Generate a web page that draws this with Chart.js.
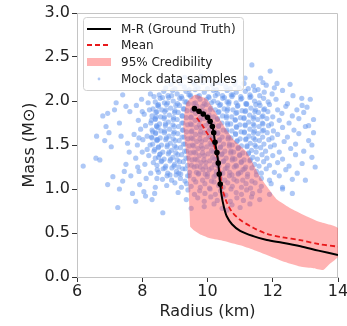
<!DOCTYPE html>
<html>
<head>
<meta charset="utf-8">
<script src="https://cdn.jsdelivr.net/npm/chart.js@4.4.1/dist/chart.umd.min.js"></script>
<style>
  html, body { margin: 0; padding: 0; background: #fff; }
  #wrap { width: 347px; height: 326px; }
</style>
</head>
<body>
<div id="wrap"><canvas id="graficoMR" width="347" height="326"></canvas></div>
<script>
// ground truth M-R curve (radius km, mass Msun); first 12 points carry markers
const truthR = [9.60, 9.74, 9.87, 10.00, 10.08, 10.15, 10.19, 10.23, 10.29, 10.33, 10.36, 10.39,
                10.43, 10.50, 10.59, 10.75, 11.00, 11.40, 11.82, 12.30, 12.85, 13.40, 14.00];
const truthM = [1.913, 1.883, 1.853, 1.815, 1.77, 1.71, 1.64, 1.53, 1.415, 1.295, 1.17, 1.056,
                0.93, 0.80, 0.69, 0.60, 0.525, 0.465, 0.42, 0.39, 0.35, 0.30, 0.25];
const markedPoints = 12;

// posterior mean
const meanR = [9.67, 9.85, 9.98, 10.10, 10.18, 10.26, 10.33, 10.39, 10.44, 10.52, 10.60, 10.75,
               11.00, 11.40, 11.82, 12.30, 12.84, 13.40, 14.00];
const meanM = [1.81, 1.72, 1.64, 1.57, 1.52, 1.42, 1.295, 1.16, 1.03, 0.92, 0.84, 0.74,
               0.65, 0.56, 0.49, 0.45, 0.42, 0.375, 0.345];

// 95% band outline, walked round as one closed shape
const bandR = [9.47, 9.45, 9.42, 9.38, 9.30, 9.26, 9.30, 9.36, 9.50, 9.62, 9.80, 9.98, 10.2, 10.5,
               10.8, 11.2, 11.61, 11.9, 12.13, 12.5, 12.84, 13.4, 14.0,
               14.0, 13.75, 13.55, 13.25, 12.84, 12.3, 11.82, 11.4, 11.0, 10.5, 10.08, 9.8, 9.57];
const bandM = [0.57, 0.75, 1.0, 1.3, 1.55, 1.71, 1.88, 1.98, 2.04, 2.07, 2.05, 2.02, 1.9, 1.72,
               1.56, 1.42, 1.14, 0.99, 0.88, 0.79, 0.725, 0.63, 0.555,
               0.23, 0.15, 0.08, 0.10, 0.12, 0.18, 0.25, 0.31, 0.36, 0.41, 0.44, 0.48, 0.535];

// mock (R, M) samples
const mockSamples = [
  [6.19,1.26],[6.58,1.35],[6.7,1.33],[6.79,1.83],[6.89,1.71],[6.94,1.86],[6.94,1.05],[6.98,1.64],[7.1,1.14],[7.2,1.98],
  [7.25,0.79],[7.3,1.75],[7.3,1.0],[7.4,2.07],[7.4,1.09],[7.5,1.94],[7.5,1.28],[7.55,1.52],[7.6,1.42],[7.62,1.88],
  [7.7,0.95],[7.05,1.48],[6.85,1.55],[7.35,1.6],[7.45,1.2],[7.15,1.9],[6.6,1.6],[7.65,1.15],
  [7.75,1.62],[7.8,0.86],[7.8,1.35],[7.82,1.95],[7.85,1.5],[7.88,1.78],[7.9,1.2],[7.92,1.05],[7.95,1.68],[7.98,2.02],
  [8.0,1.42],[8.02,1.56],[8.05,0.97],[8.06,1.85],[8.08,1.28],[8.1,1.72],[8.12,1.12],[8.15,1.6],[8.18,1.98],[8.2,1.38],
  [8.22,1.9],[8.24,1.5],[8.26,1.18],[8.28,1.78],[8.3,0.88],[8.32,1.65],[8.34,1.3],[8.36,2.05],[8.38,1.45],[8.4,1.02],
  [8.42,1.82],[8.44,1.56],[8.46,1.22],[8.48,1.7],[8.5,1.94],[8.5,1.36],[7.9,1.58],[8.0,1.88],[8.15,1.45],[8.3,1.58],
  [8.45,1.12],[7.86,1.25],[8.25,2.08],[8.1,0.92],[8.38,0.95],
  [9.05,2.23],[9.3,2.27],[9.55,2.22],[9.8,2.28],[10.05,2.24],[10.3,2.21],[10.6,2.27],[10.85,2.23],[11.15,2.26],[11.36,2.41],
  [11.63,2.26],[11.92,2.34],[12.13,2.2],[11.7,2.21],[12.53,2.19],
  [8.72,2.15],[8.88,2.19],[9.0,2.14],[9.17,2.2],[9.29,2.16],[9.44,2.13],[9.6,2.19],[9.71,2.15],[9.86,2.21],[10.0,2.14],
  [10.15,2.18],[10.27,2.13],[10.43,2.2],[10.56,2.16],[10.7,2.14],[10.84,2.19],[10.97,2.15],[11.12,2.2],[11.25,2.14],[11.41,2.17],
  [11.55,2.13],[11.8,2.18],[12.05,2.15],
  [8.52,2.07],[8.66,2.11],[8.79,2.06],[8.93,2.12],[9.07,2.08],[9.2,2.05],[9.34,2.11],[9.47,2.07],[9.62,2.13],[9.75,2.06],
  [9.9,2.1],[10.03,2.05],[10.18,2.12],[10.31,2.08],[10.46,2.06],[10.6,2.12],[10.73,2.07],[10.88,2.1],[11.02,2.05],[11.16,2.11],
  [11.3,2.07],[11.45,2.12],[11.6,2.06],[11.74,2.1],[11.98,2.08],[12.3,2.12],[12.62,2.06],
  [8.4,1.99],[8.55,2.03],[8.68,1.98],[8.81,2.04],[8.95,2.0],[9.08,1.97],[9.22,2.03],[9.36,1.99],[9.49,2.05],[9.63,1.98],
  [9.77,2.02],[9.9,1.97],[10.05,2.04],[10.19,2.0],[10.32,1.98],[10.47,2.03],[10.6,1.99],[10.75,2.05],[10.88,1.98],[11.02,2.02],
  [11.17,1.97],[11.3,2.04],[11.44,2.0],[11.58,1.98],[11.72,2.03],[11.86,1.99],[12.1,2.02],[12.45,1.97],[12.89,2.03],[13.15,2.02],
  [8.33,1.91],[8.47,1.95],[8.6,1.9],[8.74,1.96],[8.87,1.92],[9.0,1.89],[9.14,1.95],[9.28,1.91],[9.41,1.97],[9.55,1.9],
  [9.68,1.94],[9.82,1.89],[9.96,1.96],[10.1,1.92],[10.24,1.9],[10.37,1.95],[10.51,1.91],[10.65,1.97],[10.78,1.9],[10.92,1.94],
  [11.06,1.89],[11.2,1.96],[11.33,1.92],[11.47,1.9],[11.61,1.95],[11.75,1.91],[11.9,1.96],[12.15,1.9],[12.4,1.94],[12.74,1.9],
  [13.05,1.93],
  [8.3,1.83],[8.42,1.87],[8.56,1.82],[8.69,1.88],[8.83,1.84],[8.96,1.81],[9.1,1.87],[9.23,1.83],[9.37,1.89],[9.5,1.82],
  [9.64,1.86],[9.78,1.81],[9.92,1.88],[10.05,1.84],[10.19,1.82],[10.33,1.87],[10.46,1.83],[10.6,1.89],[10.74,1.82],[10.87,1.86],
  [11.01,1.81],[11.15,1.88],[11.29,1.84],[11.42,1.82],[11.56,1.87],[11.7,1.83],[11.85,1.88],[12.0,1.82],[12.28,1.86],[12.6,1.83],
  [12.95,1.87],[13.25,1.79],
  [8.26,1.75],[8.4,1.79],[8.53,1.74],[8.67,1.8],[8.8,1.76],[8.94,1.73],[9.07,1.79],[9.21,1.75],[9.35,1.81],[9.48,1.74],
  [9.62,1.78],[9.75,1.73],[9.89,1.8],[10.03,1.76],[10.17,1.74],[10.3,1.79],[10.44,1.75],[10.58,1.81],[10.71,1.74],[10.85,1.78],
  [10.99,1.73],[11.12,1.8],[11.26,1.76],[11.4,1.74],[11.54,1.79],[11.68,1.75],[11.82,1.8],[11.96,1.74],[12.2,1.78],[12.5,1.75],
  [12.8,1.8],[13.1,1.72],
  [8.3,1.67],[8.44,1.71],[8.57,1.66],[8.71,1.72],[8.84,1.68],[8.98,1.65],[9.11,1.71],[9.25,1.67],[9.39,1.73],[9.52,1.66],
  [9.66,1.7],[9.79,1.65],[9.93,1.72],[10.07,1.68],[10.21,1.66],[10.34,1.71],[10.48,1.67],[10.62,1.73],[10.75,1.66],[10.89,1.7],
  [11.03,1.65],[11.16,1.72],[11.3,1.68],[11.44,1.66],[11.58,1.71],[11.72,1.67],[11.87,1.72],[12.02,1.66],[12.3,1.7],[12.65,1.67],
  [13.0,1.71],
  [8.28,1.59],[8.41,1.63],[8.55,1.58],[8.68,1.64],[8.82,1.6],[8.95,1.57],[9.09,1.63],[9.22,1.59],[9.36,1.65],[9.5,1.58],
  [9.63,1.62],[9.77,1.57],[9.9,1.64],[10.04,1.6],[10.18,1.58],[10.31,1.63],[10.45,1.59],[10.59,1.65],[10.72,1.58],[10.86,1.62],
  [11.0,1.57],[11.13,1.64],[11.27,1.6],[11.41,1.58],[11.55,1.63],[11.69,1.59],[11.83,1.64],[11.98,1.58],[12.15,1.62],[12.45,1.59],
  [12.8,1.63],[13.25,1.64],
  [8.32,1.51],[8.45,1.55],[8.59,1.5],[8.72,1.56],[8.86,1.52],[8.99,1.49],[9.13,1.55],[9.26,1.51],[9.4,1.57],[9.54,1.5],
  [9.67,1.54],[9.81,1.49],[9.94,1.56],[10.08,1.52],[10.22,1.5],[10.35,1.55],[10.49,1.51],[10.63,1.57],[10.76,1.5],[10.9,1.54],
  [11.04,1.49],[11.17,1.56],[11.31,1.52],[11.45,1.5],[11.59,1.55],[11.73,1.51],[11.88,1.56],[12.05,1.5],[12.35,1.54],[12.7,1.51],
  [13.1,1.55],
  [8.36,1.43],[8.49,1.47],[8.63,1.42],[8.76,1.48],[8.9,1.44],[9.03,1.41],[9.17,1.47],[9.3,1.43],[9.44,1.49],[9.58,1.42],
  [9.71,1.46],[9.85,1.41],[9.98,1.48],[10.12,1.44],[10.26,1.42],[10.39,1.47],[10.53,1.43],[10.67,1.49],[10.8,1.42],[10.94,1.46],
  [11.08,1.41],[11.21,1.48],[11.35,1.44],[11.49,1.42],[11.63,1.47],[11.78,1.43],[11.93,1.48],[12.2,1.42],[12.55,1.46],[12.95,1.43],
  [8.4,1.35],[8.53,1.39],[8.67,1.34],[8.8,1.4],[8.94,1.36],[9.07,1.33],[9.21,1.39],[9.34,1.35],[9.48,1.41],[9.62,1.34],
  [9.75,1.38],[9.89,1.33],[10.02,1.4],[10.16,1.36],[10.3,1.34],[10.43,1.39],[10.57,1.35],[10.71,1.41],[10.84,1.34],[10.98,1.38],
  [11.12,1.33],[11.25,1.4],[11.39,1.36],[11.53,1.34],[11.67,1.39],[11.82,1.35],[12.0,1.38],[12.3,1.34],[12.7,1.39],[13.2,1.36],
  [8.45,1.27],[8.58,1.31],[8.72,1.26],[8.85,1.32],[8.99,1.28],[9.12,1.25],[9.26,1.31],[9.39,1.27],[9.53,1.33],[9.67,1.26],
  [9.8,1.3],[9.94,1.25],[10.07,1.32],[10.21,1.28],[10.35,1.26],[10.48,1.31],[10.62,1.27],[10.76,1.33],[10.89,1.26],[11.03,1.3],
  [11.17,1.25],[11.3,1.32],[11.44,1.28],[11.58,1.26],[11.72,1.31],[11.9,1.27],[12.15,1.3],[12.5,1.26],[12.9,1.29],
  [8.5,1.19],[8.64,1.23],[8.78,1.18],[8.91,1.24],[9.05,1.2],[9.18,1.17],[9.32,1.23],[9.45,1.19],[9.59,1.25],[9.73,1.18],
  [9.86,1.22],[10.0,1.17],[10.13,1.24],[10.27,1.2],[10.41,1.18],[10.54,1.23],[10.68,1.19],[10.82,1.25],[10.95,1.18],[11.09,1.22],
  [11.23,1.17],[11.36,1.24],[11.5,1.2],[11.65,1.18],[11.8,1.23],[12.05,1.19],[12.4,1.22],[12.75,1.18],
  [8.62,1.11],[8.76,1.15],[8.9,1.1],[9.04,1.16],[9.17,1.12],[9.31,1.09],[9.44,1.15],[9.58,1.11],[9.72,1.17],[9.85,1.1],
  [9.99,1.14],[10.12,1.09],[10.26,1.16],[10.4,1.12],[10.53,1.1],[10.67,1.15],[10.81,1.11],[10.94,1.17],[11.08,1.1],[11.22,1.14],
  [11.36,1.09],[11.5,1.16],[11.65,1.12],[11.9,1.1],[12.2,1.15],[12.6,1.11],
  [8.75,1.04],[9.0,1.07],[9.2,1.02],[9.36,1.06],[9.5,1.03],[9.64,1.08],[9.78,1.02],[9.92,1.06],[10.06,1.01],[10.2,1.08],
  [10.34,1.04],[10.48,1.02],[10.62,1.07],[10.76,1.03],[10.9,1.09],[11.04,1.02],[11.18,1.06],[11.32,1.01],[11.46,1.07],[11.65,1.03],
  [11.95,1.06],[12.3,1.02],
  [9.1,0.96],[9.4,0.99],[9.6,0.94],[9.76,0.98],[9.92,0.95],[10.08,1.0],[10.24,0.94],[10.4,0.98],[10.56,0.93],[10.72,1.0],
  [10.88,0.96],[11.04,0.94],[11.2,0.99],[11.38,0.95],[11.6,0.98],[11.9,0.94],
  [9.35,0.88],[9.7,0.9],[9.9,0.86],[10.1,0.91],[10.3,0.87],[10.5,0.92],[10.7,0.86],[10.9,0.9],[11.1,0.87],[11.35,0.91],
  [11.6,0.88],[9.9,0.8],[10.2,0.83],[10.45,0.78],[10.75,0.82],[11.0,0.79],[11.3,0.83],[10.6,0.76],[8.63,0.73],[9.5,0.78],
  [12.3,1.0],[12.6,0.95],[13.0,1.1],[13.2,1.5],[12.9,1.95],[13.3,1.25]
];

// extra samples filling the crowded middle of the cloud
const mockCore = [
  [8.62,2.04],[8.9,2.06],[9.15,2.03],[9.43,2.07],[9.7,2.05],[9.97,2.02],[10.24,2.06],[10.52,2.04],[10.78,2.07],[11.05,2.03],[11.33,2.05],
  [8.5,1.96],[8.78,1.98],[9.03,1.95],[9.31,1.99],[9.58,1.97],[9.85,1.94],[10.12,1.98],[10.4,1.96],[10.66,1.99],[10.93,1.95],[11.2,1.97],[11.48,1.96],
  [8.45,1.88],[8.73,1.9],[8.99,1.87],[9.26,1.91],[9.53,1.89],[9.8,1.86],[10.08,1.9],[10.35,1.88],[10.62,1.91],[10.9,1.87],[11.17,1.89],[11.45,1.88],[11.72,1.9],
  [8.4,1.8],[8.68,1.82],[8.95,1.79],[9.22,1.83],[9.49,1.81],[9.76,1.78],[10.03,1.82],[10.31,1.8],[10.58,1.83],[10.85,1.79],[11.12,1.81],[11.4,1.8],[11.67,1.82],
  [8.44,1.72],[8.71,1.74],[8.98,1.71],[9.25,1.75],[9.52,1.73],[9.79,1.7],[10.06,1.74],[10.34,1.72],[10.61,1.75],[10.88,1.71],[11.15,1.73],[11.43,1.72],[11.7,1.74],
  [8.41,1.64],[8.69,1.66],[8.96,1.63],[9.23,1.67],[9.5,1.65],[9.77,1.62],[10.04,1.66],[10.32,1.64],[10.59,1.67],[10.86,1.63],[11.13,1.65],[11.41,1.64],[11.68,1.66],
  [8.47,1.56],[8.74,1.58],[9.01,1.55],[9.28,1.59],[9.55,1.57],[9.82,1.54],[10.09,1.58],[10.37,1.56],[10.64,1.59],[10.91,1.55],[11.18,1.57],[11.46,1.56],
  [8.5,1.48],[8.77,1.5],[9.04,1.47],[9.31,1.51],[9.58,1.49],[9.85,1.46],[10.12,1.5],[10.4,1.48],[10.67,1.51],[10.94,1.47],[11.21,1.49],[11.49,1.48],
  [8.55,1.4],[8.82,1.42],[9.09,1.39],[9.36,1.43],[9.63,1.41],[9.9,1.38],[10.17,1.42],[10.45,1.4],[10.72,1.43],[10.99,1.39],[11.26,1.41],
  [8.6,1.32],[8.87,1.34],[9.14,1.31],[9.41,1.35],[9.68,1.33],[9.95,1.3],[10.22,1.34],[10.5,1.32],[10.77,1.35],[11.04,1.31],[11.31,1.33],
  [8.7,1.24],[8.97,1.26],[9.24,1.23],[9.51,1.27],[9.78,1.25],[10.05,1.22],[10.32,1.26],[10.6,1.24],[10.87,1.27],[11.14,1.23],
  [8.85,1.16],[9.12,1.18],[9.39,1.15],[9.66,1.19],[9.93,1.17],[10.2,1.14],[10.47,1.18],[10.75,1.16],[11.02,1.19]
];

const xTicks = [6, 8, 10, 12, 14];
const yTicks = [0.0, 0.5, 1.0, 1.5, 2.0, 2.5, 3.0];

const labelFont = { family: 'DejaVu Sans', size: 16 };
const spineColor = '#c4c4c4';

function pairs(xs, ys) {
  return xs.map((x, i) => ({ x: x, y: ys[i] }));
}

// matplotlib style box legend drawn in the upper left corner of the plot
const boxLegend = {
  id: 'boxLegend',
  afterDraw(chart) {
    const c = chart.ctx;
    const a = chart.chartArea;
    const ds = chart.data.datasets;
    const left = a.left + 6, top = a.top + 4, w = 160, h = 73;
    c.save();
    c.fillStyle = 'rgba(255,255,255,0.82)';
    c.strokeStyle = '#d0d0d0';
    c.lineWidth = 1;
    c.beginPath();
    c.roundRect(left + 0.5, top + 0.5, w, h, 3);
    c.fill();
    c.stroke();

    c.font = '12px "DejaVu Sans"';
    c.textBaseline = 'middle';
    c.fillStyle = '#222';
    const rows = [top + 12, top + 28, top + 45, top + 62];
    const hx = left + 4, hw = 24;
    ds.forEach((d, i) => {
      const y = rows[i];
      c.save();
      if (d.legendKind === 'line') {
        c.strokeStyle = d.borderColor;
        c.lineWidth = d.borderWidth;
        c.setLineDash(d.borderDash || []);
        c.beginPath();
        c.moveTo(hx, y);
        c.lineTo(hx + hw, y);
        c.stroke();
      } else if (d.legendKind === 'patch') {
        c.fillStyle = d.backgroundColor;
        c.fillRect(hx, y - 4, hw, 8);
      } else {
        c.fillStyle = d.backgroundColor;
        c.beginPath();
        c.arc(hx + hw / 2, y, 1.4, 0, Math.PI * 2);
        c.fill();
      }
      c.restore();
      c.fillText(d.label, left + 38, y + 1);
    });
    c.restore();
  }
};

// top and right spines
const frame = {
  id: 'frame',
  beforeDatasetsDraw(chart) {
    const c = chart.ctx, a = chart.chartArea;
    c.save();
    c.strokeStyle = spineColor;
    c.lineWidth = 1;
    c.beginPath();
    c.moveTo(a.left, a.top + 0.5);
    c.lineTo(a.right - 0.5, a.top + 0.5);
    c.lineTo(a.right - 0.5, a.bottom);
    c.stroke();
    c.restore();
  }
};

const ctx = document.getElementById('graficoMR');

new Chart(ctx, {
  type: 'scatter',
  data: {
    datasets: [
      {
        type: 'line',
        label: 'M-R (Ground Truth)',
        legendKind: 'line',
        data: pairs(truthR, truthM),
        borderColor: '#000',
        backgroundColor: '#000',
        borderWidth: 2,
        tension: 0.3,
        pointRadius: (c) => c.dataIndex < markedPoints ? 2.8 : 0,
        pointBackgroundColor: '#000',
        pointBorderWidth: 0,
        fill: false
      },
      {
        type: 'line',
        label: 'Mean',
        legendKind: 'line',
        data: pairs(meanR, meanM),
        borderColor: '#e8191b',
        borderWidth: 1.8,
        borderDash: [5, 3],
        tension: 0.3,
        pointRadius: 0,
        fill: false
      },
      {
        type: 'line',
        label: '95% Credibility',
        legendKind: 'patch',
        data: pairs(bandR, bandM),
        borderColor: 'rgba(0,0,0,0)',
        borderWidth: 0,
        backgroundColor: 'rgba(255, 85, 85, 0.45)',
        tension: 0.15,
        pointRadius: 0,
        fill: 'shape'
      },
      {
        label: 'Mock data samples',
        legendKind: 'dot',
        data: mockSamples.concat(mockCore).map(p => ({ x: p[0], y: p[1] })),
        backgroundColor: 'rgba(100, 149, 237, 0.52)',
        borderWidth: 0,
        pointRadius: 2.6
      }
    ]
  },
  options: {
    responsive: false,
    animation: false,
    devicePixelRatio: 1,
    layout: { padding: { left: 0, right: 9, top: 13, bottom: 0 } },
    plugins: {
      legend: { display: false },
      tooltip: { enabled: false }
    },
    scales: {
      x: {
        type: 'linear',
        min: 6,
        max: 14,
        afterBuildTicks: (s) => { s.ticks = xTicks.map(v => ({ value: v })); },
        afterFit: (s) => { s.height = 49; s.paddingRight = 9; },
        ticks: {
          autoSkip: false,
          maxRotation: 0,
          padding: 0,
          color: '#222',
          font: labelFont
        },
        grid: { drawOnChartArea: false, color: '#333', tickLength: 5 },
        border: { color: spineColor },
        title: {
          display: true,
          text: 'Radius (km)',
          color: '#222',
          font: labelFont,
          padding: { top: 4, bottom: 5 }
        }
      },
      y: {
        type: 'linear',
        min: 0,
        max: 3,
        afterBuildTicks: (s) => { s.ticks = yTicks.map(v => ({ value: v })); },
        afterFit: (s) => { s.width = 77; },
        ticks: {
          autoSkip: false,
          padding: 2,
          color: '#222',
          font: labelFont,
          callback: (v) => v.toFixed(1)
        },
        grid: { drawOnChartArea: false, color: '#333', tickLength: 5 },
        border: { color: spineColor },
        title: {
          display: true,
          text: 'Mass (M\u2299)',
          color: '#222',
          font: labelFont,
          padding: { top: 20, bottom: 20 }
        }
      }
    }
  },
  plugins: [frame, boxLegend]
});
</script>
</body>
</html>
